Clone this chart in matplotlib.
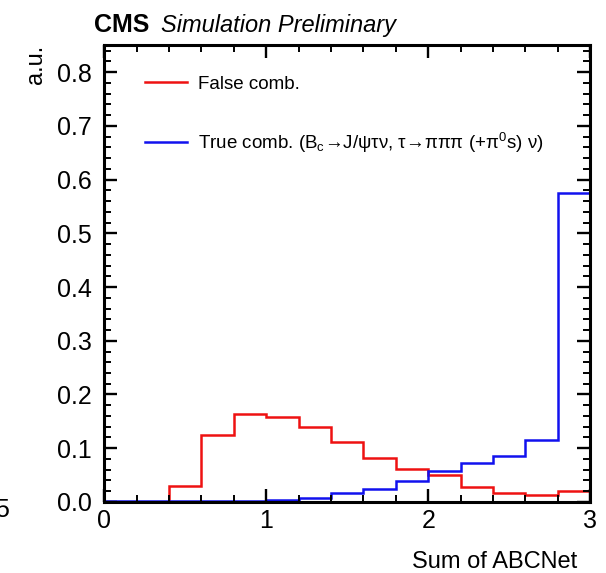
import matplotlib
matplotlib.use('Agg')
import matplotlib.pyplot as plt
import numpy as np
from matplotlib.ticker import MultipleLocator

plt.rcParams['font.family'] = ['Liberation Sans', 'DejaVu Sans']
plt.rcParams['mathtext.fontset'] = 'custom'
plt.rcParams['mathtext.rm'] = 'Liberation Sans'
plt.rcParams['mathtext.it'] = 'Liberation Sans:italic'

# histogram bin edges (Sum of ABCNet) and normalised contents
edges = np.round(np.arange(0, 3.01, 0.2), 2)
false_comb = [0.0, 0.0, 0.029, 0.125, 0.164, 0.158, 0.140, 0.111,
              0.082, 0.062, 0.050, 0.028, 0.0175, 0.013, 0.020]
true_comb = [0.001, 0.001, 0.001, 0.001, 0.002, 0.003, 0.0075, 0.0175,
             0.024, 0.039, 0.058, 0.073, 0.0855, 0.115, 0.575]

label_false = 'False comb.'
label_true = r'True comb. (B$_\mathrm{c}$→J/ψτν, τ→πππ (+π$^\mathrm{0}$s) ν)'

fig = plt.figure(figsize=(6.06, 5.73), dpi=100)
ax = fig.add_axes([0.172, 0.124, 0.802, 0.797])

ax.stairs(false_comb, edges, baseline=None, color='#ee1111', lw=1.8, label=label_false)
ax.stairs(true_comb, edges, baseline=None, color='#1111ee', lw=1.8, label=label_true)

ax.set_xlim(0, 3)
ax.set_ylim(0, 0.85)
ax.xaxis.set_major_locator(MultipleLocator(1))
ax.xaxis.set_minor_locator(MultipleLocator(0.2))
ax.yaxis.set_major_locator(MultipleLocator(0.1))
ax.yaxis.set_minor_locator(MultipleLocator(0.02))
ax.yaxis.set_major_formatter(matplotlib.ticker.FormatStrFormatter('%.1f'))

ax.tick_params(which='both', direction='in', top=True, right=True, labelsize=18)
ax.tick_params(which='major', length=9.5, width=1.7)
ax.tick_params(which='minor', length=5, width=1.4)
ax.tick_params(axis='x', pad=5)
ax.tick_params(axis='y', pad=9)
for s in ax.spines.values():
    s.set_linewidth(2.2)

ax.legend(loc='upper left', bbox_to_anchor=(0.05, 0.97), frameon=False,
          fontsize=13.5, handlelength=2.2, handletextpad=0.6, labelspacing=2.0)

fig.text(94 / 606, 1 - 32 / 573, 'CMS', fontsize=18, fontweight='bold', va='baseline')
fig.text(161 / 606, 1 - 32 / 573, 'Simulation Preliminary', fontsize=17,
         style='italic', va='baseline')
fig.text(577 / 606, 1 - 568 / 573, 'Sum of ABCNet', fontsize=17, ha='right', va='baseline')
fig.text(36 / 606, 1 - 45 / 573, 'a.u.', fontsize=17, rotation=90, ha='center', va='top')
fig.text(9 / 606, 1 - 510 / 573, '5', fontsize=18, ha='right', va='center')

fig.savefig('out.png', dpi=100)
